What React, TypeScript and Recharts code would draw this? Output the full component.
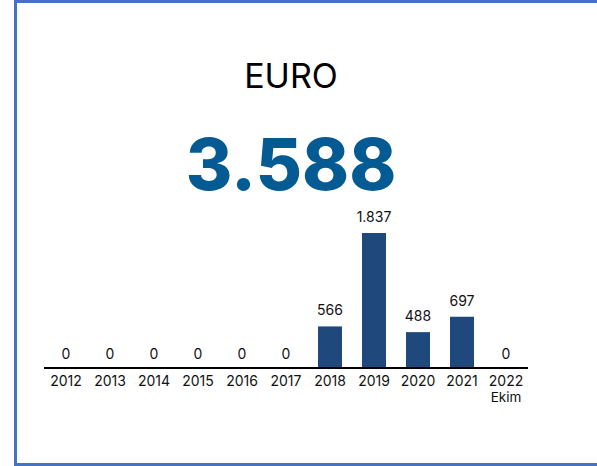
import React from "react";
import { ComposedChart, Bar, Line, XAxis, YAxis, LabelList } from "recharts";

const years = ["2012", "2013", "2014", "2015", "2016", "2017", "2018", "2019", "2020", "2021", "2022"];
const subLabels = ["", "", "", "", "", "", "", "", "", "", "Ekim"];
const values = [0, 0, 0, 0, 0, 0, 566, 1837, 488, 697, 0];
const titleText = "EURO";
const totalText = "3.588";

const data = years.map((y, i) => ({ year: y, sub: subLabels[i], value: values[i] }));

const FONT = "Inter, 'Open Sans', sans-serif";

const fmt = (v: number) => String(v).replace(/\B(?=(\d{3})+(?!\d))/g, ".");

const Tick = (props: any) => {
  const { x, y, payload, index } = props;
  const sub = subLabels[index] ?? data.find((d) => d.year === payload.value)?.sub;
  return (
    <g>
      <text x={x} y={y + 18} textAnchor="middle" fontSize={14} fill="#111" fontFamily={FONT}>
        {payload.value}
      </text>
      {sub ? (
        <text x={x} y={y + 34} textAnchor="middle" fontSize={13.5} fill="#111" fontFamily={FONT}>
          {sub}
        </text>
      ) : null}
    </g>
  );
};

const PointLabel = (props: any) => {
  const { x, y, value } = props;
  const off = value === 0 ? 9 : 11;
  return (
    <text x={x} y={y - off} textAnchor="middle" fontSize={14} fill="#111" fontFamily={FONT}>
      {fmt(value)}
    </text>
  );
};

export default function App() {
  return (
    <div style={{ position: "absolute", left: 0, top: 0, width: 597, height: 466, overflow: "hidden", background: "#fff", fontFamily: FONT }}>
      <div
        style={{
          position: "absolute",
          left: 14,
          top: 0,
          width: 620,
          height: 466,
          border: "3px solid #4472C4",
          boxSizing: "border-box",
        }}
      />
      <svg style={{ position: "absolute", left: 0, top: 0 }} width={597} height={466}>
        <text x={291} y={88} textAnchor="middle" fontSize={34} fontWeight={400} fill="#000" fontFamily={FONT}>
          {titleText}
        </text>
        <text x={291} y={190} textAnchor="middle" fontSize={71} fontWeight={800} fill="#045A92" fontFamily={FONT}>
          {totalText}
        </text>
      </svg>
      <div style={{ position: "absolute", left: 0, top: 0 }}>
        <ComposedChart
          width={597}
          height={466}
          data={data}
          margin={{ top: 233, right: 69, bottom: 68, left: 44 }}
          barSize={24}
        >
          <XAxis
            dataKey="year"
            axisLine={{ stroke: "#000", strokeWidth: 2 }}
            tickLine={false}
            tickSize={0}
            tickMargin={0}
            height={30}
            interval={0}
            tick={<Tick />}
          />
          <YAxis hide domain={[0, 1837]} />
          <Bar dataKey="value" fill="#1F497D" isAnimationActive={false} />
          <Line
            dataKey="value"
            stroke="none"
            dot={false}
            activeDot={false}
            isAnimationActive={false}
          >
            <LabelList dataKey="value" content={<PointLabel />} />
          </Line>
        </ComposedChart>
      </div>
    </div>
  );
}
